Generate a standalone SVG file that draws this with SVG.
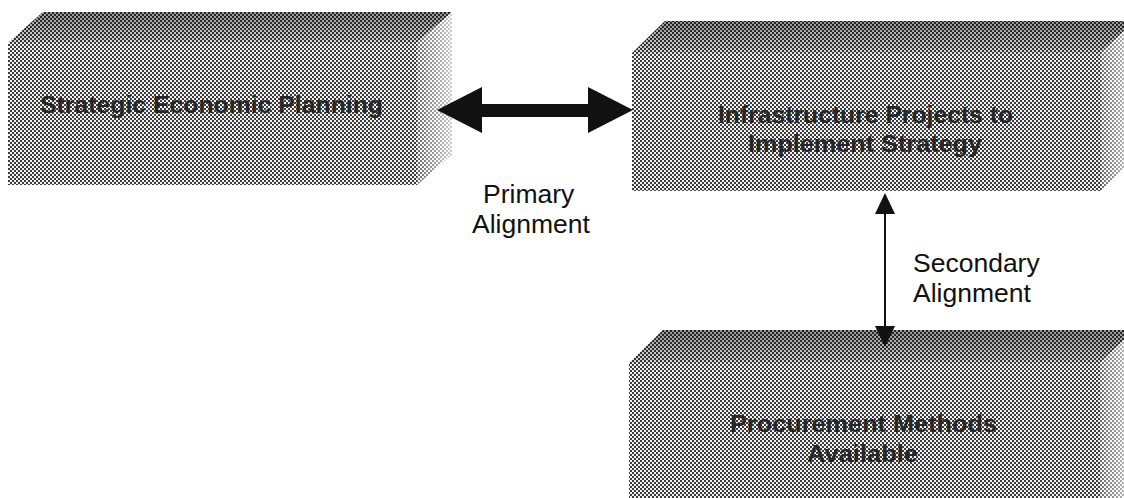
<svg xmlns="http://www.w3.org/2000/svg" width="1124" height="498" viewBox="0 0 1124 498">
  <defs>
    <pattern id="ht" width="4" height="4" patternUnits="userSpaceOnUse">
      <rect width="4" height="4" fill="#f2f2f2"/>
      <rect x="0" y="0" width="2" height="2" fill="#3c3c3c"/>
      <rect x="2" y="2" width="2" height="2" fill="#3c3c3c"/>
    </pattern>
    <linearGradient id="topShade" x1="0" y1="0" x2="0" y2="1">
      <stop offset="0" stop-color="#000" stop-opacity="0.4"/>
      <stop offset="1" stop-color="#000" stop-opacity="0.1"/>
    </linearGradient>
    <linearGradient id="sideShade" x1="0" y1="0" x2="1" y2="0">
      <stop offset="0" stop-color="#fff" stop-opacity="0.25"/>
      <stop offset="1" stop-color="#fff" stop-opacity="0.75"/>
    </linearGradient>
  </defs>
  <style>
    .face { fill: url(#ht); }
    .top { fill: url(#topShade); }
    .side { fill: url(#sideShade); }
    .btxt { font-family: "Liberation Sans", Arial, sans-serif; font-size: 24px; font-weight: bold; fill: #262626; }
    .lbl { font-family: "Liberation Sans", Arial, sans-serif; font-size: 26.5px; fill: #111; }
  </style>
  <rect width="1124" height="498" fill="#fff"/>

  <g id="node-strategic">
    <polygon class="face" points="8,43 43,12 452,12 417,43"/>
    <polygon class="top" points="8,43 43,12 452,12 417,43"/>
    <polygon class="face" points="417,43 452,12 452,154 417,185"/>
    <polygon class="side" points="417,43 452,12 452,154 417,185"/>
    <rect class="face" x="8" y="43" width="409" height="142"/>
    <text class="btxt" x="40" y="113" textLength="343" lengthAdjust="spacingAndGlyphs">Strategic Economic Planning</text>
  </g>

  <g id="node-infrastructure">
    <polygon class="face" points="632,53 665,21 1134,21 1101,53"/>
    <polygon class="top" points="632,53 665,21 1134,21 1101,53"/>
    <polygon class="face" points="1101,53 1134,21 1134,158 1101,191"/>
    <polygon class="side" points="1101,53 1134,21 1134,158 1101,191"/>
    <rect class="face" x="632" y="53" width="469" height="138"/>
    <text class="btxt" x="718" y="123" textLength="295" lengthAdjust="spacingAndGlyphs">Infrastructure Projects to</text>
    <text class="btxt" x="748" y="152" textLength="234" lengthAdjust="spacingAndGlyphs">Implement Strategy</text>
  </g>

  <g id="node-procurement">
    <polygon class="face" points="629,363 663,330 1134,330 1100,363"/>
    <polygon class="top" points="629,363 663,330 1134,330 1100,363"/>
    <polygon class="face" points="1100,363 1134,330 1134,500 1100,500"/>
    <polygon class="side" points="1100,363 1134,330 1134,500 1100,500"/>
    <rect class="face" x="629" y="363" width="471" height="137"/>
    <text class="btxt" x="730" y="432" textLength="267" lengthAdjust="spacingAndGlyphs">Procurement Methods</text>
    <text class="btxt" x="807" y="462" textLength="111" lengthAdjust="spacingAndGlyphs">Available</text>
  </g>

  <g id="connectors">
    <polygon fill="#111" points="437,110 482,87 482,104 588,104 588,87 633,110 588,133 588,117 482,117 482,133"/>
    <line x1="885" y1="210" x2="885" y2="330" stroke="#111" stroke-width="2"/>
    <polygon fill="#111" points="885,193 875,214 895,214"/>
    <polygon fill="#111" points="885,347 875,326 895,326"/>
  </g>

  <g id="labels">
    <text class="lbl" x="483" y="203">Primary</text>
    <text class="lbl" x="472" y="233">Alignment</text>
    <text class="lbl" x="913" y="272">Secondary</text>
    <text class="lbl" x="913" y="302">Alignment</text>
  </g>
</svg>
